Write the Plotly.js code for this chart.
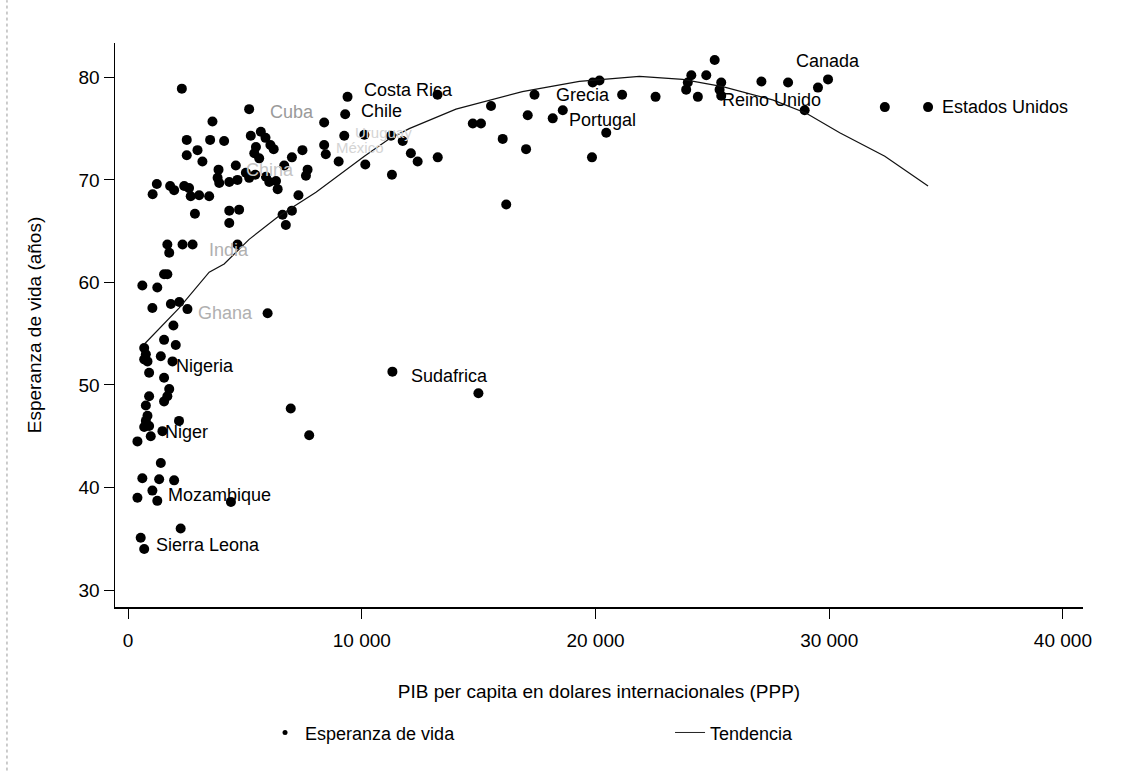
<!DOCTYPE html>
<html>
<head>
<meta charset="utf-8">
<script src="https://cdn.plot.ly/plotly-3.0.1.min.js"></script>
<style>html,body{margin:0;padding:0;background:#fff;}#chart{width:1122px;height:771px;}</style>
</head>
<body>
<div id="chart"></div>
<script>
// PIB per cápita (PPP) y esperanza de vida por país
const gdp = [
 2300,5180,3610,9390,13240,9290,8390,2510,3510,4110,5250,5680,5880,6090,6230,5470,5400,5610,
 2510,2970,3180,3870,4610,7010,7460,8390,8460,9250,10110,11250,11750,12100,12390,13250,9010,
 10150,11290,3830,3900,4330,4680,5040,5180,5440,5900,6040,6330,6680,7680,7610,6400,1230,1050,
 1800,1970,2400,2610,2680,3040,3470,2860,7290,7010,6610,6750,4330,4750,4330,1680,1760,2330,
 2760,4680,1680,1540,1250,610,1040,1830,2190,2540,5970,1940,
 1540,2040,690,760,830,690,1400,1900,900,1540,900,760,1760,1680,1540,830,760,900,970,690,2180,
 1470,400,6960,7750,1400,610,1330,1970,400,1040,1250,4400,2250,540,690,11310,14990,
 25100,24100,24740,23950,23880,24380,25380,25310,25380,27100,28240,29520,28950,29950,20170,
 19880,17390,21140,22570,15530,14750,15100,17100,18170,18600,20460,16030,17030,19850,16180,
 32380,34230
];
const lifeExp = [
 78.9,76.9,75.7,78.1,78.3,76.4,75.6,73.9,73.9,73.8,74.3,74.7,74.1,73.4,73.0,73.2,72.6,72.1,
 72.4,72.9,71.8,71.0,71.4,72.2,72.9,73.4,72.5,74.3,74.4,74.3,73.8,72.6,71.8,72.2,71.8,
 71.5,70.5,70.2,69.7,69.8,70.0,70.7,70.2,70.5,70.3,69.8,69.9,71.4,71.0,70.4,69.1,69.6,68.6,
 69.4,69.0,69.4,69.2,68.4,68.5,68.4,66.7,68.5,67.0,66.6,65.6,67.0,67.1,65.8,63.7,62.9,63.7,
 63.7,63.7,60.8,60.8,59.5,59.7,57.5,57.9,58.1,57.4,57.0,55.8,
 54.4,53.9,53.6,53.0,52.3,52.5,52.8,52.3,51.2,50.7,48.9,48.0,49.6,48.9,48.4,47.0,46.5,46.0,45.0,45.9,46.5,
 45.5,44.5,47.7,45.1,42.4,40.9,40.8,40.7,39.0,39.7,38.7,38.6,36.0,35.1,34.0,51.3,49.2,
 81.7,80.2,80.2,79.5,78.8,78.1,79.5,78.8,78.2,79.6,79.5,79.0,76.8,79.8,79.7,
 79.5,78.3,78.3,78.1,77.2,75.5,75.5,76.3,76.0,76.8,74.6,74.0,73.0,72.2,67.6,
 77.1,77.1
];

// Tendencia
const trendGdp = [700,2180,3470,4110,5180,6470,8040,9160,10110,11180,12030,14030,16870,19310,21880,23730,25440,27580,29020,30450,32380,34230];
const trendLife = [54.0,57.5,61.0,61.8,64.2,66.5,68.8,70.7,72.3,74.0,75.0,76.9,78.6,79.6,80.1,79.8,79.1,77.8,76.5,74.6,72.3,69.4];

// Etiquetas de países (coordenadas del punto etiquetado)
const labelNames = ["Costa Rica","Chile","Cuba","Uruguay","México","China","India","Ghana","Nigeria","Niger","Mozambique","Sierra Leona","Sudafrica","Grecia","Portugal","Reino Unido","Canada","Estados Unidos"];
const labelGdp  = [9390,9290,5180,9250,8390,4610,2760,2540,1900,970,1250,690,11310,17390,18170,24380,29950,34230];
const labelLife = [78.1,76.4,76.9,74.3,73.4,71.4,63.7,57.4,52.3,45.0,38.7,34.0,51.3,78.3,76.0,78.1,79.8,77.1];

const xTicks = [0,10000,20000,30000,40000];
const yTicks = [30,40,50,60,70,80];

// estilo de etiquetas: [xshift, yshift, color, anchor, size]
const labelStyle = {
 "Costa Rica":[14,7,"#000","left",18], "Chile":[14,3,"#000","left",18], "Cuba":[19,-3,"#9a9a9a","left",18],
 "Uruguay":[9,3,"#d4d4d4","left",15], "México":[10,-2,"#d4d4d4","left",15], "China":[8,-4,"#c4c4c4","left",18],
 "India":[14,-5,"#b0b0b0","left",18], "Ghana":[9,-4,"#b0b0b0","left",18], "Nigeria":[2,-5,"#000","left",18],
 "Niger":[12,4,"#000","left",18], "Mozambique":[9,6,"#000","left",18], "Sierra Leona":[10,4,"#000","left",18],
 "Sudafrica":[17,-4,"#000","left",18], "Grecia":[19,0,"#000","left",18], "Portugal":[14,-2,"#000","left",18],
 "Reino Unido":[22,-3,"#000","left",18], "Canada":[0,18,"#000","center",18], "Estados Unidos":[12,0,"#000","left",18]
};

const FONT = "Liberation Sans, Arial, sans-serif";

const traces = [
 {x: gdp, y: lifeExp, type:'scatter', mode:'markers', name:'Esperanza de vida', showlegend:false,
  marker:{color:'#000', size:10, line:{width:0}}, cliponaxis:false},
 {x: trendGdp, y: trendLife, type:'scatter', mode:'lines', name:'Tendencia', showlegend:false,
  line:{color:'#111', width:1.2}, cliponaxis:false},
 // entradas de leyenda
 {x:[null], y:[null], type:'scatter', mode:'markers', name:'Esperanza de vida',
  marker:{color:'#000', size:5}},
 {x:[null], y:[null], type:'scatter', mode:'lines', name:'Tendencia',
  line:{color:'#222', width:1}}
];

const annotations = labelNames.map((n,i)=>{
 const s = labelStyle[n];
 return {x: labelGdp[i], y: labelLife[i], xref:'x', yref:'y', text:n, showarrow:false,
  xanchor:s[3], yanchor:'middle', xshift:s[0], yshift:s[1],
  font:{family:FONT, size:s[4], color:s[2]}};
});

const layout = {
 width:1122, height:771,
 paper_bgcolor:'#fff', plot_bgcolor:'#fff',
 font:{family:FONT, color:'#000', size:18},
 separators:'. ',
 margin:{l:115, r:39, t:43, b:164},
 showlegend:true,
 legend:{orientation:'h', x:0.155, xanchor:'left', y:-0.223, yanchor:'middle',
  font:{family:FONT, size:18, color:'#000'}, entrywidth:360, entrywidthmode:'pixels',
  bgcolor:'rgba(0,0,0,0)'},
 xaxis:{range:[-560,40860], tickvals:xTicks, tickformat:',', showgrid:false, zeroline:false,
  showline:true, linecolor:'#000', linewidth:1.5, ticks:'outside', ticklen:10, tickcolor:'#000',
  tickwidth:1, ticklabelstandoff:6, tickfont:{family:FONT, size:19, color:'#000'},
  title:{text:'PIB per capita en dolares internacionales (PPP)', standoff:34,
   font:{family:FONT, size:19, color:'#000'}}, automargin:false},
 yaxis:{range:[28.35,83.35], tickvals:yTicks, showgrid:false, zeroline:false,
  showline:true, linecolor:'#000', linewidth:1.5, ticks:'outside', ticklen:10, tickcolor:'#000',
  tickwidth:1, tickfont:{family:FONT, size:19, color:'#000'},
  title:{text:'Esperanza de vida (años)', standoff:32, font:{family:FONT, size:19, color:'#000'}},
  automargin:false},
 annotations: annotations,
 shapes:[{type:'line', xref:'paper', yref:'paper', x0:-0.1116, x1:-0.1116, y0:-0.29, y1:1.076,
  line:{color:'#999', width:1, dash:'dot'}}]
};

Plotly.newPlot('chart', traces, layout, {displayModeBar:false, staticPlot:true});
</script>
</body>
</html>
